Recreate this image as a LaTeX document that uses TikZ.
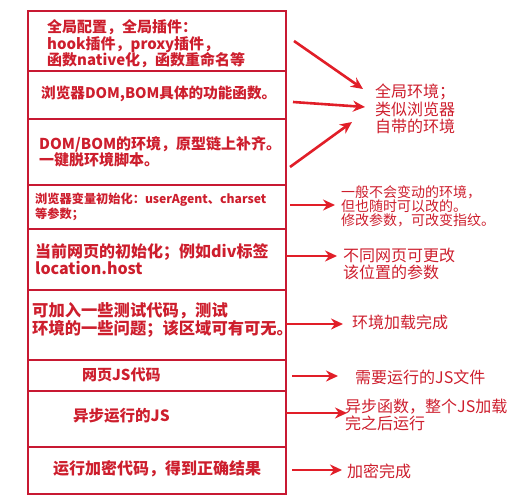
\documentclass[tikz,border=0pt]{standalone}
\usepackage{fontspec}
\setmainfont{Noto Sans CJK SC}
\usetikzlibrary{arrows.meta}
\definecolor{boxred}{RGB}{200,25,50}
\definecolor{txtred}{RGB}{205,30,45}
\definecolor{arrred}{RGB}{225,30,40}
\begin{document}
\begin{tikzpicture}[x=1pt,y=-1pt,
  outerbox/.style={draw=boxred, line width=1.8pt},
  divline/.style={draw=boxred, line width=1.4pt},
  ltxt/.style={text=txtred, anchor=west, inner sep=0pt, align=left},
  rtxt/.style={text=txtred, anchor=west, inner sep=0pt, align=left},
  arr/.style={draw=arrred, line width=2.6pt, -{Stealth[length=12pt,width=11pt]}}]
\useasboundingbox (0,0) rectangle (516,500);
% box and dividers
\draw[outerbox] (28,11) rectangle (286,494);
\foreach \yy in {71,119,185,229,290,360,391,447}
  \draw[divline] (28,\yy) -- (286,\yy);
% left texts
\node[ltxt, font=\fontsize{15}{16.5}\selectfont\bfseries] (n1) at (47,44) {全局配置，全局插件：\\hook插件，proxy插件，\\函数native化，函数重命名等};
\node[ltxt, font=\fontsize{14.6}{16}\selectfont\bfseries] (n2) at (41,94) {浏览器DOM,BOM具体的功能函数。};
\node[ltxt, font=\fontsize{15}{16}\selectfont\bfseries] (n3) at (39,152) {DOM/BOM的环境，原型链上补齐。\\一键脱环境脚本。};
\node[ltxt, font=\fontsize{12.2}{12.5}\selectfont\bfseries] (n4) at (35,207) {浏览器变量初始化：userAgent、charset\\等参数；};
\node[ltxt, font=\fontsize{16}{16.5}\selectfont\bfseries] (n5) at (35,259) {当前网页的初始化；例如div标签\\location.host};
\node[ltxt, font=\fontsize{16.3}{15.5}\selectfont\bfseries] (n6) at (32,320) {可加入一些测试代码，测试\\环境的一些问题；该区域可有可无。};
\node[ltxt, font=\fontsize{15}{16}\selectfont\bfseries] (n7) at (82,375) {网页JS代码};
\node[ltxt, font=\fontsize{15.5}{16}\selectfont\bfseries] (n8) at (73,416) {异步运行的JS};
\node[ltxt, font=\fontsize{16}{16}\selectfont\bfseries] (n9) at (53,469) {运行加密代码，得到正确结果};
% right texts
\node[rtxt, font=\fontsize{16}{17.5}\selectfont] (r1) at (375,109) {全局环境；\\类似浏览器\\自带的环境};
\node[rtxt, font=\fontsize{14}{14}\selectfont] (r2) at (341,206) {一般不会变动的环境，\\但也随时可以改的。\\修改参数，可改变指纹。};
\node[rtxt, font=\fontsize{16}{17}\selectfont] (r3) at (343,264) {不同网页可更改\\该位置的参数};
\node[rtxt, font=\fontsize{16}{17}\selectfont] (r4) at (352,322) {环境加载完成};
\node[rtxt, font=\fontsize{16}{17}\selectfont] (r5) at (355,377) {需要运行的JS文件};
\node[rtxt, font=\fontsize{16}{17}\selectfont] (r6) at (345,415) {异步函数，整个JS加载\\完之后运行};
\node[rtxt, font=\fontsize{16}{17}\selectfont] (r7) at (347,471) {加密完成};
% arrow coordinates
\coordinate (s1) at (294,41);  \coordinate (e1) at (363,89);
\coordinate (s2) at (293,102); \coordinate (e2) at (365,107);
\coordinate (s3) at (290,167); \coordinate (e3) at (352,122);
\coordinate (s4) at (290,205); \coordinate (e4) at (335,205);
\coordinate (s5) at (286,256); \coordinate (e5) at (337,256);
\coordinate (s6) at (286,324); \coordinate (e6) at (343,324);
\coordinate (s7) at (292,376); \coordinate (e7) at (338,376);
\coordinate (s8) at (286,413); \coordinate (e8) at (347,413);
\coordinate (s9) at (292,470); \coordinate (e9) at (342,470);
\foreach \i in {1,...,9} \draw[arr] (s\i) -- (e\i);
\end{tikzpicture}
\end{document}
